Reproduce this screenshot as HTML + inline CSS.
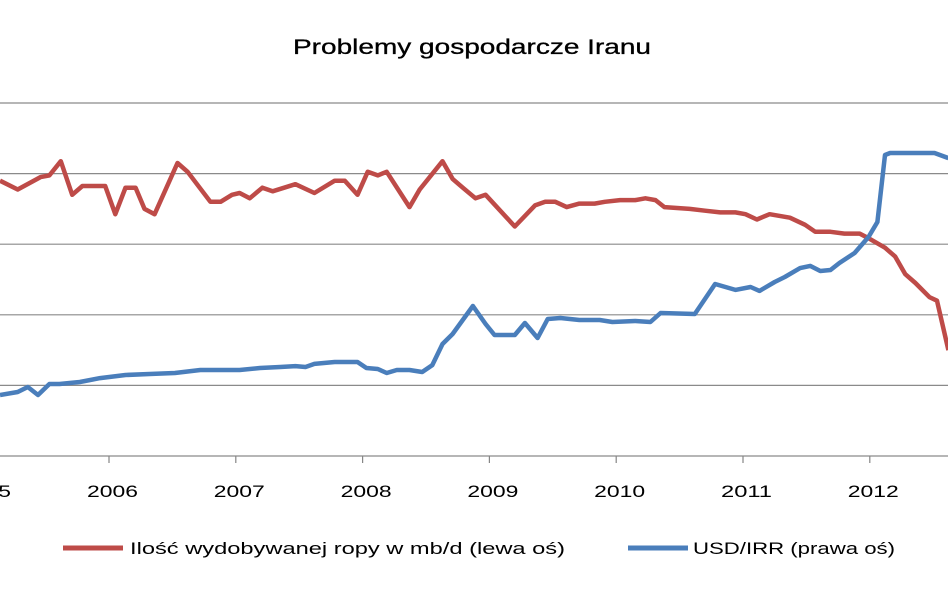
<!DOCTYPE html>
<html><head><meta charset="utf-8">
<style>
html,body{margin:0;padding:0;background:#fff;}
svg{display:block;font-family:"Liberation Sans",sans-serif;}
</style></head>
<body>
<svg id="chart" width="948" height="593" viewBox="0 0 948 593">
<text x="293" y="54" textLength="358" lengthAdjust="spacingAndGlyphs" font-size="21" fill="#000" stroke="#000" stroke-width="0.3">Problemy gospodarcze Iranu</text>
<g id="grid"></g>
<g id="xaxis"></g>
<g id="series"></g>
<g>
<g>
<line x1="63" y1="548" x2="123" y2="548" stroke="#BE4B48" stroke-width="5"/>
<text x="130" y="554" font-size="17" textLength="435" lengthAdjust="spacingAndGlyphs" fill="#000">Ilość wydobywanej ropy w mb/d (lewa oś)</text>
</g>
<g>
<line x1="628" y1="548" x2="688" y2="548" stroke="#4A7EBB" stroke-width="5"/>
<text x="693" y="554" font-size="17" textLength="202" lengthAdjust="spacingAndGlyphs" fill="#000">USD/IRR (prawa oś)</text>
</g>
</g>
</svg>
<script>
const years = [2005, 2006, 2007, 2008, 2009, 2010, 2011, 2012];
const leftTicks = [2.4, 2.8, 3.2, 3.6, 4.0, 4.4];
const oilT = [2005.14,2005.28,2005.46,2005.53,2005.62,2005.71,2005.79,2005.97,2006.05,2006.13,2006.21,2006.28,2006.36,2006.54,2006.62,2006.80,2006.88,2006.97,2007.03,2007.11,2007.21,2007.29,2007.47,2007.62,2007.78,2007.86,2007.96,2008.04,2008.12,2008.19,2008.37,2008.45,2008.63,2008.71,2008.79,2008.89,2008.97,2009.20,2009.36,2009.44,2009.52,2009.61,2009.71,2009.83,2009.91,2010.03,2010.15,2010.23,2010.31,2010.38,2010.58,2010.70,2010.82,2010.94,2011.02,2011.11,2011.21,2011.37,2011.49,2011.57,2011.69,2011.80,2011.92,2012.00,2012.12,2012.20,2012.28,2012.36,2012.47,2012.53,2012.62];
const oilV = [3.96,3.91,3.98,3.99,4.07,3.88,3.93,3.93,3.77,3.92,3.92,3.80,3.77,4.06,4.01,3.84,3.84,3.88,3.89,3.86,3.92,3.90,3.94,3.89,3.96,3.96,3.88,4.01,3.99,4.01,3.81,3.91,4.07,3.97,3.92,3.86,3.88,3.70,3.82,3.84,3.84,3.81,3.83,3.83,3.84,3.85,3.85,3.86,3.85,3.81,3.80,3.79,3.78,3.78,3.77,3.74,3.77,3.75,3.71,3.67,3.67,3.66,3.66,3.63,3.58,3.53,3.43,3.38,3.30,3.28,3.00];
const fxT = [2005.14,2005.28,2005.36,2005.44,2005.53,2005.61,2005.77,2005.93,2006.13,2006.32,2006.52,2006.72,2007.03,2007.19,2007.35,2007.47,2007.55,2007.62,2007.78,2007.96,2008.03,2008.12,2008.19,2008.27,2008.37,2008.47,2008.55,2008.63,2008.71,2008.87,2008.97,2009.04,2009.20,2009.28,2009.38,2009.46,2009.56,2009.71,2009.87,2009.97,2010.15,2010.27,2010.35,2010.62,2010.78,2010.94,2011.06,2011.13,2011.25,2011.33,2011.45,2011.53,2011.61,2011.69,2011.76,2011.88,2011.99,2012.06,2012.12,2012.16,2012.51,2012.62];
const fxV = [4320,4530,4890,4320,5100,5100,5240,5520,5740,5810,5880,6090,6090,6230,6300,6370,6300,6520,6660,6660,6230,6160,5880,6090,6090,5950,6440,7930,8640,10620,9350,8570,8570,9420,8360,9700,9770,9630,9630,9490,9560,9490,10130,10060,12180,11760,11970,11690,12320,12680,13310,13460,13100,13170,13670,14380,15510,16570,21320,21460,21460,21100];

const NS = "http://www.w3.org/2000/svg";
const yTop = 103, yBot = 456;
function xScale(t){ return 109 + (t - 2006) * 126.8; }
function yLeft(v){ return yBot - (v - 2.4) / 2.0 * (yBot - yTop); }
function yRight(v){ return yBot - v / 25000 * (yBot - yTop); }
function mk(tag, attrs, parent){ const e = document.createElementNS(NS, tag); for (const k in attrs) e.setAttribute(k, attrs[k]); parent.appendChild(e); return e; }

const grid = document.getElementById('grid');
leftTicks.forEach(v => {
  const l = mk('line', {x1:0, x2:948, y1:yLeft(v), y2:yLeft(v), stroke:'#8a8a8a', 'stroke-width':1.2}, grid);
  
  
});
const xa = document.getElementById('xaxis');
years.forEach(y => {
  const x = xScale(y);
  const tk = mk('line', {x1:x, x2:x, y1:yBot, y2:yBot+7, stroke:'#868686', 'stroke-width':1.2}, xa);
  
  
  const lx = y===2005 ? -40 : x - 22;
  const tx = mk('text', {x: lx, y:497, 'font-size':17, textLength:51, lengthAdjust:'spacingAndGlyphs', fill:'#000'}, xa);
  tx.textContent = String(y);
  
  
});
const s = document.getElementById('series');
function line(T, V, yf, color, name){
  const d = T.map((t,i) => (i ? 'L' : 'M') + xScale(t).toFixed(1) + ' ' + yf(V[i]).toFixed(1)).join(' ');
  const p = mk('path', {d, fill:'none', stroke:color, 'stroke-width':4.5, 'stroke-linejoin':'round'}, s);
  
  
}
line(oilT, oilV, yLeft, '#BE4B48', 'oil-production-line');
line(fxT, fxV, yRight, '#4A7EBB', 'usd-irr-line');
</script>
</body></html>
